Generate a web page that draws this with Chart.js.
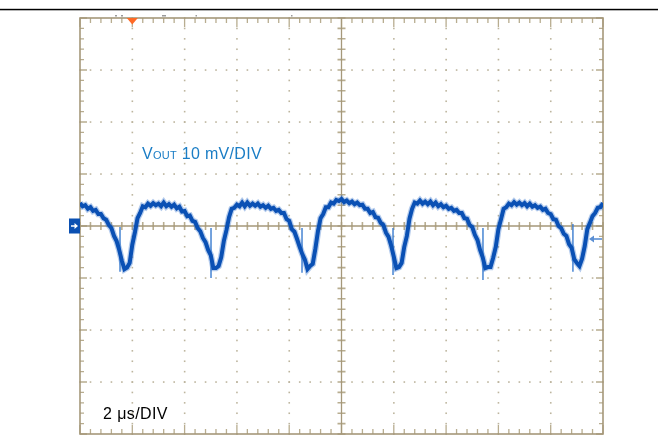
<!DOCTYPE html>
<html><head><meta charset="utf-8">
<script src="https://cdn.jsdelivr.net/npm/chart.js@4.4.1/dist/chart.umd.min.js"></script>
<style>
html,body{margin:0;padding:0;background:#fff;}
#wrap{position:relative;width:658px;height:437px;overflow:hidden;}
canvas{position:absolute;left:0;top:0;}
.lbl{position:absolute;white-space:nowrap;font-family:"Liberation Sans",Arial,Helvetica,sans-serif;line-height:16px;}
</style></head><body>
<div id="wrap">
<canvas id="c" width="658" height="437" style="width:658px;height:437px"></canvas>
<div class="lbl" style="left:142px;top:146px;font-size:16px;color:#1a7dc5;letter-spacing:0.3px">V<span style="font-size:11px">OUT</span> 10 mV/DIV</div>
<div class="lbl" style="left:103px;top:406px;font-size:16px;color:#000;letter-spacing:0.4px">2 μs/DIV</div>
</div>
<script>
const timeStepUs = 0.1;
const voutMv = [
  4.4, 3.8, 4.0, 3.3, 3.6, 2.9, 3.1, 2.3, 2.3, 1.5,
  1.2, 0.2, -0.4, -1.9, -2.9, -4.6, -6.7, -8.3, -8.0, -7.1,
  -3.6, -1.2, 1.5, 2.5, 3.8, 3.6, 4.3, 3.9, 4.4, 4.0,
  4.3, 3.8, 4.5, 3.8, 4.2, 3.7, 4.1, 3.4, 3.7, 2.8,
  2.9, 1.9, 2.0, 1.0, 0.8, -0.4, -1.0, -2.3, -3.1, -4.6,
  -5.6, -8.1, -8.1, -7.7, -6.0, -2.9, -0.8, 1.7, 3.3, 3.5,
  4.1, 3.8, 4.5, 3.8, 4.5, 3.9, 4.3, 3.9, 4.3, 3.7,
  4.0, 3.5, 3.9, 3.3, 3.5, 2.9, 3.1, 2.5, 2.5, 1.3,
  1.0, -0.6, -1.1, -2.5, -4.0, -5.4, -6.5, -8.3, -7.7, -7.3,
  -4.4, -1.0, 1.5, 2.3, 3.6, 3.6, 4.5, 4.3, 5.0, 4.8,
  5.2, 4.6, 4.9, 4.4, 4.7, 4.2, 4.5, 4.0, 4.1, 3.3,
  3.3, 2.5, 2.7, 1.7, 1.6, 0.6, 0.2, -1.3, -2.1, -3.8,
  -5.9, -8.1, -7.9, -7.1, -4.0, -1.9, 1.4, 3.3, 4.5, 4.3,
  4.9, 4.3, 4.7, 4.2, 4.7, 4.0, 4.5, 3.8, 4.2, 3.6,
  3.9, 3.3, 3.5, 2.9, 3.1, 2.5, 2.5, 1.5, 1.4, 0.2,
  -0.2, -1.7, -2.7, -4.6, -6.0, -8.1, -7.9, -7.9, -6.1, -4.0,
  -0.6, 1.3, 3.3, 3.6, 4.3, 4.0, 4.6, 4.1, 4.5, 4.0,
  4.4, 3.8, 4.3, 3.7, 4.0, 3.5, 3.7, 3.1, 3.3, 2.5,
  2.3, 1.3, 1.2, 0.0, -0.4, -1.5, -1.9, -3.5, -4.2, -6.4,
  -7.1, -7.7, -6.3, -3.9, -0.6, 0.6, 1.9, 2.5, 3.5, 3.6,
  4.4
];
const timeUs = voutMv.map((_, i) => +(i * timeStepUs).toFixed(2));

const spikeTimesUs  = [1.53, 5.01, 8.49, 11.97, 15.41, 18.85];
const spikeTopMv    = [-0.2, -0.4, -0.4, -0.4, -0.4, 0.4];
const spikeBottomMv = [-8.8, -10.0, -9.0, -9.4, -10.4, -8.8];

const xDivUs = [0, 2, 4, 6, 8, 10, 12, 14, 16, 18, 20];
const yDivMv = [-40, -30, -20, -10, 0, 10, 20, 30, 40];
const triggerUs = 2.0;

// ---- build library structures ----
const tracePoints = timeUs.map((t, i) => ({x: t, y: voutMv[i]}));
const spikePoints = [];
spikeTimesUs.forEach((t, i) => {
  spikePoints.push({x: t, y: spikeTopMv[i]}, {x: t, y: spikeBottomMv[i]}, {x: t + 0.01, y: null});
});

function minorSteps(divs) {
  const out = [];
  for (let i = 0; i < divs.length - 1; i++)
    for (let k = 0; k < 5; k++) out.push(divs[i] + (divs[i + 1] - divs[i]) * k / 5);
  out.push(divs[divs.length - 1]);
  return out;
}

const LINE = '#a5987a', TICK = '#b8ad90', DOT = '#bdb59e';

const graticule = {
  id: 'graticule',
  beforeDatasetsDraw(chart) {
    const {ctx, chartArea: a, scales: {x, y}} = chart;
    const L = a.left, R = a.right, T = a.top, B = a.bottom;
    const px = v => x.getPixelForValue(v), py = v => y.getPixelForValue(v);
    const xMin = minorSteps(xDivUs), yMin = minorSteps(yDivMv);
    const xC = xDivUs[(xDivUs.length - 1) / 2], yC = yDivMv[(yDivMv.length - 1) / 2];
    ctx.save();
    ctx.fillStyle = DOT;
    xDivUs.slice(1, -1).forEach(v => {
      if (v === xC) return;
      const X = px(v);
      yMin.forEach(w => ctx.fillRect(X - 0.75, py(w) - 0.75, 1.6, 1.6));
    });
    yDivMv.slice(1, -1).forEach(w => {
      if (w === yC) return;
      const Y = py(w);
      xMin.forEach(v => ctx.fillRect(px(v) - 0.75, Y - 0.75, 1.6, 1.6));
    });
    ctx.strokeStyle = TICK; ctx.lineWidth = 1.3;
    ctx.beginPath();
    xMin.forEach((v, i) => {
      const X = px(v), len = (i % 5 === 0) ? 9 : 5;
      ctx.moveTo(X, T); ctx.lineTo(X, T + len);
      ctx.moveTo(X, B); ctx.lineTo(X, B - len);
    });
    yMin.forEach((w, i) => {
      const Y = py(w), len = (i % 5 === 0) ? 7 : 4;
      ctx.moveTo(L, Y); ctx.lineTo(L + len, Y);
      ctx.moveTo(R, Y); ctx.lineTo(R - len, Y);
    });
    ctx.stroke();
    ctx.lineWidth = 1.6;
    ctx.beginPath();
    const cx = px(xC), cy = py(yC);
    xMin.forEach(v => { const X = px(v); ctx.moveTo(X, cy - 4); ctx.lineTo(X, cy + 4); });
    yMin.forEach(w => { const Y = py(w); ctx.moveTo(cx - 4, Y); ctx.lineTo(cx + 4, Y); });
    ctx.stroke();
    ctx.strokeStyle = LINE; ctx.lineWidth = 1.3;
    ctx.beginPath();
    ctx.moveTo(cx, T); ctx.lineTo(cx, B);
    ctx.moveTo(L, cy); ctx.lineTo(R, cy);
    ctx.stroke();
    ctx.lineWidth = 1.6;
    ctx.strokeRect(L, T, R - L, B - T);
    ctx.restore();
  },
  afterDraw(chart) {
    const {ctx, chartArea: a, scales: {x, y}} = chart;
    ctx.save();
    ctx.fillStyle = '#000';
    ctx.fillRect(0, 8.8, chart.width, 1.5);
    ctx.fillStyle = '#9a9a9a';
    [[115, 15, 2, 1.5], [121, 15, 2, 1.5], [162, 15, 4, 1.5], [195.5, 15, 1.5, 1.5], [291, 15, 1.5, 1.5]]
      .forEach(r => ctx.fillRect(r[0], r[1], r[2], r[3]));
    const tx = x.getPixelForValue(triggerUs);
    ctx.fillStyle = '#ff6a26';
    ctx.beginPath();
    ctx.moveTo(tx - 5.5, a.top); ctx.lineTo(tx + 5.5, a.top); ctx.lineTo(tx, a.top + 6.5); ctx.closePath();
    ctx.fill();
    const gy = y.getPixelForValue(0);
    ctx.fillStyle = '#0b50b2';
    ctx.fillRect(a.left - 11, gy - 7.5, 11, 15);
    ctx.strokeStyle = '#fff'; ctx.fillStyle = '#fff'; ctx.lineWidth = 1.5;
    ctx.beginPath(); ctx.moveTo(a.left - 9, gy); ctx.lineTo(a.left - 4, gy); ctx.stroke();
    ctx.beginPath(); ctx.moveTo(a.left - 2, gy); ctx.lineTo(a.left - 5.5, gy - 3); ctx.lineTo(a.left - 5.5, gy + 3); ctx.closePath(); ctx.fill();
    const ly = y.getPixelForValue(-2.5);
    ctx.strokeStyle = '#5b8fd4'; ctx.fillStyle = '#5b8fd4'; ctx.lineWidth = 1.6;
    ctx.beginPath(); ctx.moveTo(a.right - 12, ly); ctx.lineTo(a.right - 1, ly); ctx.stroke();
    ctx.beginPath(); ctx.moveTo(a.right - 14, ly); ctx.lineTo(a.right - 9, ly - 3.5); ctx.lineTo(a.right - 9, ly + 3.5); ctx.closePath(); ctx.fill();
    ctx.restore();
  }
};

new Chart(document.getElementById('c'), {
  type: 'line',
  data: {
    datasets: [
      {data: tracePoints, borderColor: '#0a50b4', borderWidth: 4, pointRadius: 0, tension: 0},
      {data: spikePoints, borderColor: '#3a7cd0', borderWidth: 1.4, pointRadius: 0, spanGaps: false},
      {data: tracePoints, borderColor: 'rgba(40,105,200,0.35)', borderWidth: 6.5, pointRadius: 0, tension: 0}
    ]
  },
  options: {
    responsive: false,
    animation: false,
    devicePixelRatio: 1,
    layout: {padding: {left: 80, right: 55, top: 18, bottom: 3}},
    plugins: {legend: {display: false}, tooltip: {enabled: false}},
    scales: {
      x: {type: 'linear', min: xDivUs[0], max: xDivUs[xDivUs.length - 1], display: false},
      y: {type: 'linear', min: yDivMv[0], max: yDivMv[yDivMv.length - 1], display: false}
    }
  },
  plugins: [graticule]
});
</script>
</body></html>
